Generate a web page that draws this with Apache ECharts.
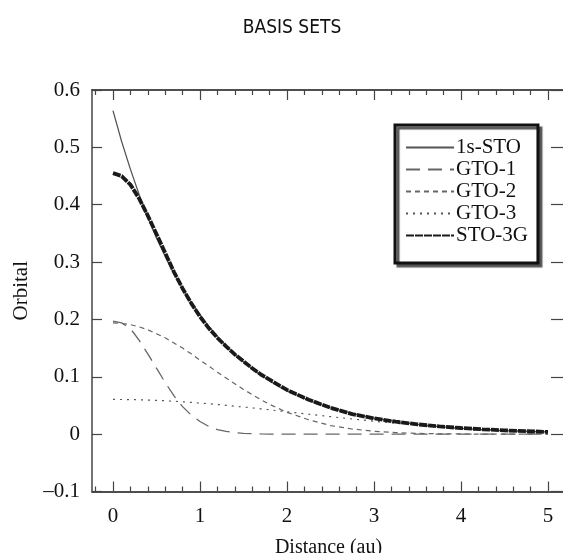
<!DOCTYPE html>
<html><head><meta charset="utf-8">
<script src="https://cdn.jsdelivr.net/npm/echarts@6/dist/echarts.min.js"></script>
<style>html,body{margin:0;padding:0;background:#fff}#c{width:563px;height:553px}</style>
</head><body><div id="c"></div>
<script>
const distance = [0,0.1,0.2,0.3,0.4,0.5,0.6,0.7,0.8,0.9,1.0,1.1,1.2,1.3,1.4,1.5,1.6,1.7,1.8,1.9,2.0,2.25,2.5,2.75,3.0,3.25,3.5,3.75,4.0,4.25,4.5,4.75,5.0];
const sto1s = [0.564,0.510,0.462,0.418,0.378,0.342,0.310,0.280,0.254,0.229,0.208,0.188,0.170,0.154,0.139,0.126,0.114,0.103,0.093,0.084,0.076,0.059,0.046,0.036,0.028,0.022,0.017,0.013,0.010,0.008,0.006,0.005,0.004];
const gto1 = [0.197,0.194,0.184,0.164,0.140,0.115,0.090,0.067,0.048,0.033,0.022,0.0135,0.008,0.005,0.0025,0.0013,0.0007,0.0003,0.0001,0,0,0,0,0,0,0,0,0,0,0,0,0,0];
const gto2 = [0.194,0.193,0.191,0.187,0.182,0.175,0.168,0.159,0.150,0.140,0.129,0.119,0.108,0.098,0.088,0.078,0.069,0.060,0.052,0.045,0.038,0.025,0.015,0.009,0.005,0.0027,0.0013,0.0006,0.0003,0.0001,0.0001,0,0];
const gto3 = [0.0605,0.0604,0.0602,0.0599,0.0594,0.0589,0.0582,0.0573,0.0564,0.0553,0.0542,0.0530,0.0517,0.0503,0.0488,0.0473,0.0457,0.0441,0.0424,0.0407,0.0390,0.0347,0.0305,0.0264,0.0225,0.0190,0.0158,0.0129,0.0104,0.0083,0.0065,0.0051,0.0039];
const sto3g = [0.455,0.450,0.435,0.411,0.381,0.349,0.316,0.283,0.254,0.228,0.205,0.185,0.168,0.153,0.139,0.127,0.115,0.104,0.095,0.086,0.077,0.060,0.046,0.035,0.0275,0.0217,0.0171,0.0135,0.0107,0.0084,0.0066,0.0051,0.0039];
const seriesNames = ['1s-STO','GTO-1','GTO-2','GTO-3','STO-3G'];
const xMajorTicks = [0,1,2,3,4,5];
const xMinorTicks = [-0.2,0.2,0.4,0.6,0.8,1.2,1.4,1.6,1.8,2.2,2.4,2.6,2.8,3.2,3.4,3.6,3.8,4.2,4.4,4.6,4.8];

const serif = '"Liberation Serif","DejaVu Serif",serif';
const pairs = arr => distance.map((d,i)=>[d,arr[i]]);
const XMIN = -0.241, XMAX = 5.195;

function xAx(pos, major, show){
  return {
    type:'value', position:pos, min:XMIN, max:XMAX,
    axisLine:{show:true, onZero:false, lineStyle:{color:'#444', width:1.5}},
    splitLine:{show:false},
    axisTick:{show:true, inside:true, length: major?10:5, customValues: major?xMajorTicks:xMinorTicks, lineStyle:{color:'#444', width:1.2}},
    axisLabel:{show: show, customValues: xMajorTicks, margin:14, fontFamily:serif, fontSize:21, color:'#111'},
    name: show ? 'Distance (au)' : '', nameLocation:'middle', nameGap:46,
    nameTextStyle:{fontFamily:serif, fontSize:20, color:'#111'}
  };
}

const chart = echarts.init(document.getElementById('c'), null, {renderer:'canvas'});
chart.setOption({
  animation:false,
  backgroundColor:'#fff',
  title:{text:'BASIS SETS', left:287, top:14, textAlign:'center',
    textStyle:{fontFamily:'"DejaVu Sans Condensed","DejaVu Sans",sans-serif', fontSize:19, fontWeight:'normal', color:'#111'}},
  grid:{left:92, right:-2, top:90, bottom:61.5, containLabel:false, outerBoundsMode:'none'},
  xAxis:[ xAx('bottom', true, true), xAx('bottom', false, false), xAx('top', true, false), xAx('top', false, false) ],
  yAxis:[
    {type:'value', position:'left', min:-0.1, max:0.6, interval:0.1,
     axisLine:{show:true, onZero:false, lineStyle:{color:'#444', width:1.5}},
     splitLine:{show:false},
     axisTick:{show:true, inside:true, length:10, lineStyle:{color:'#444', width:1.2}},
     axisLabel:{margin:12, fontFamily:serif, fontSize:21, color:'#111',
       formatter: v => { const r = Math.round(v*10)/10; return r===0 ? '0' : (r<0 ? '\u2013'+Math.abs(r).toFixed(1) : r.toFixed(1)); }},
     name:'Orbital', nameLocation:'middle', nameGap:60, nameRotate:90,
     nameTextStyle:{fontFamily:serif, fontSize:21, color:'#111'}},
    {type:'value', position:'right', min:-0.1, max:0.6, interval:0.1,
     axisLine:{show:true, onZero:false, lineStyle:{color:'#444', width:1.5}},
     splitLine:{show:false},
     axisTick:{show:true, inside:true, length:14, lineStyle:{color:'#444', width:1.2}},
     axisLabel:{show:false}}
  ],
  legend:{
    orient:'vertical', left:395, top:125, data:seriesNames,
    itemWidth:48, itemHeight:12, itemGap:1,
    padding:[12,10,17,10],
    borderColor:'#111', borderWidth:3, backgroundColor:'#fff',
    shadowColor:'#555', shadowBlur:1, shadowOffsetX:3, shadowOffsetY:3,
    itemStyle:{opacity:0},
    textStyle:{fontFamily:serif, fontSize:21, color:'#111', lineHeight:21, padding:[0,0,0,-3]},
    selectedMode:false
  },
  series:[
    {name:seriesNames[0], type:'line', data:pairs(sto1s), symbol:'none', lineStyle:{color:'#555', width:1.3, type:'solid'}, itemStyle:{color:'#555'}},
    {name:seriesNames[1], type:'line', data:pairs(gto1), symbol:'none', lineStyle:{color:'#666', width:1.3, type:[14,8]}, itemStyle:{color:'#666'}},
    {name:seriesNames[2], type:'line', data:pairs(gto2), symbol:'none', lineStyle:{color:'#666', width:1.2, type:[5,4]}, itemStyle:{color:'#666'}},
    {name:seriesNames[3], type:'line', data:pairs(gto3), symbol:'none', lineStyle:{color:'#555', width:1.2, type:[2,5]}, itemStyle:{color:'#555'}},
    {name:seriesNames[4], type:'line', data:pairs(sto3g), symbol:'none', lineStyle:{color:'#1a1a1a', width:3.8, type:[8,1]}, itemStyle:{color:'#1a1a1a'}}
  ]
});
</script></body></html>
